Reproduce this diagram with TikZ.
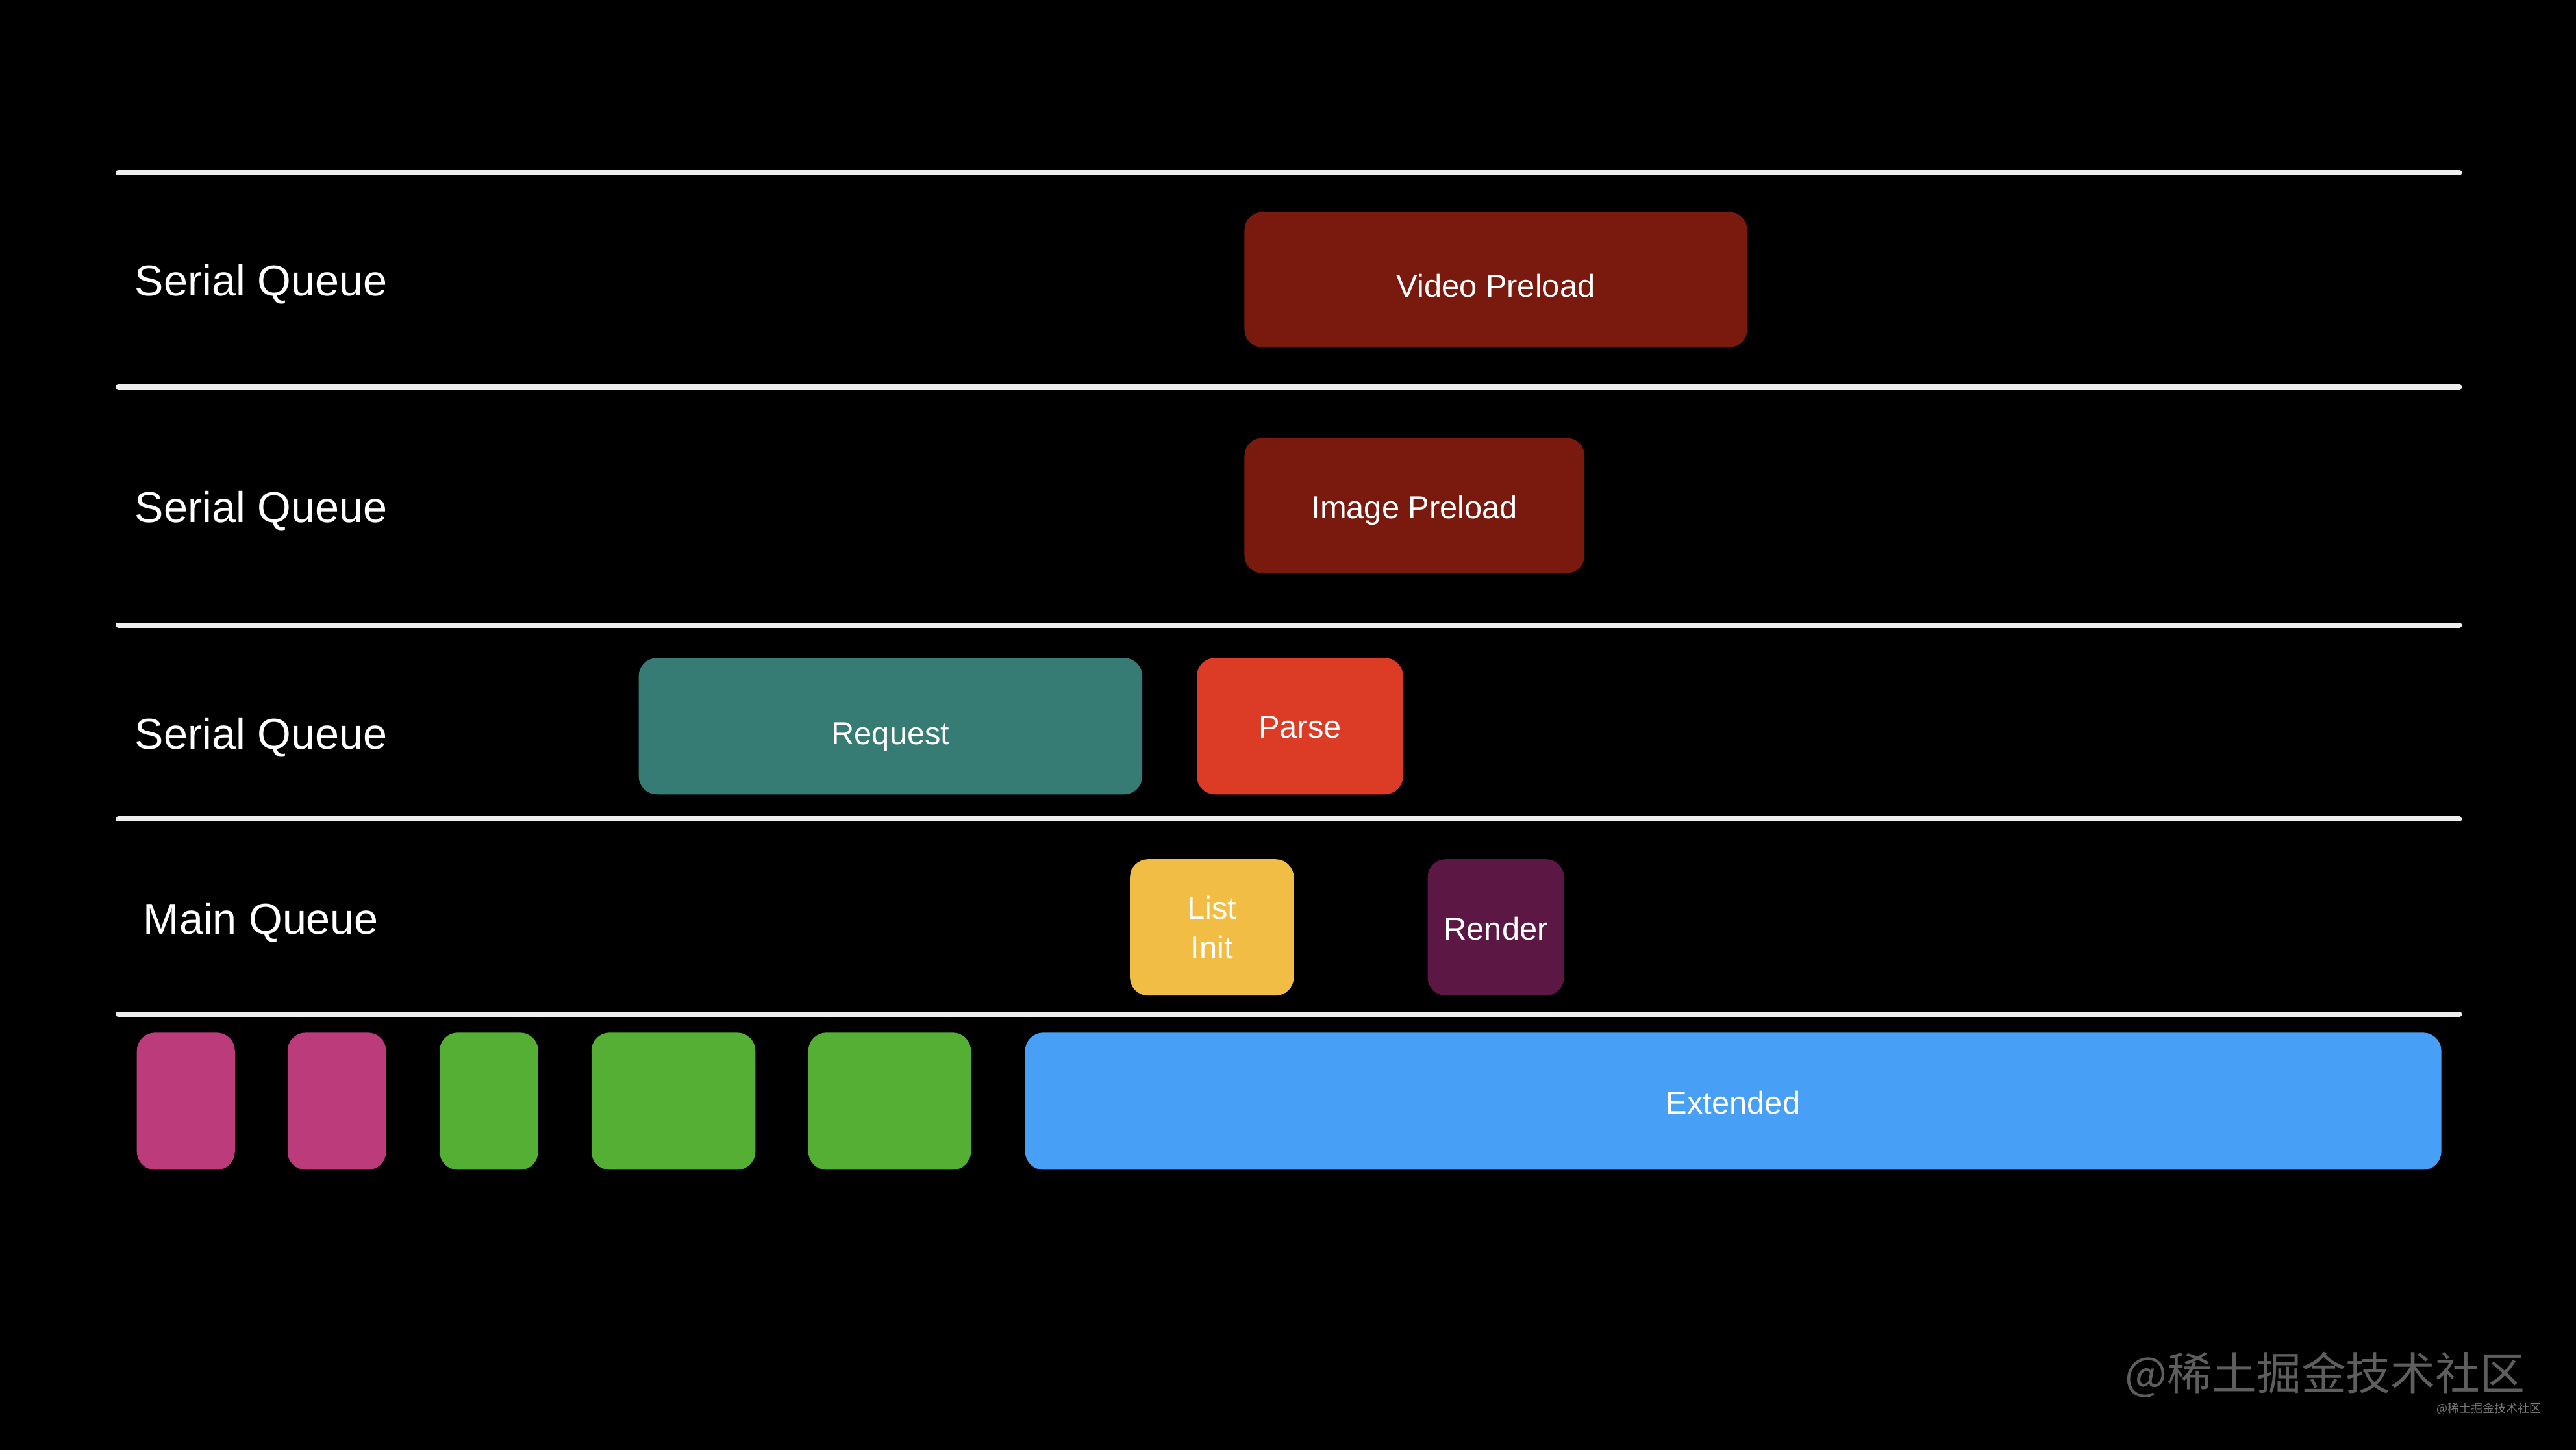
\documentclass[tikz,border=0pt]{standalone}
\usepackage{fontspec}
\setmainfont{Liberation Sans}
\newfontfamily\cjkfont{Noto Sans CJK SC}
\definecolor{laneline}{HTML}{EEEEEE}
\definecolor{preloadred}{HTML}{7A1A0F}
\definecolor{requestteal}{HTML}{367C75}
\definecolor{parsered}{HTML}{DC3C26}
\definecolor{listyellow}{HTML}{F1BD45}
\definecolor{renderpurple}{HTML}{5D1744}
\definecolor{launchpink}{HTML}{BC3B7B}
\definecolor{launchgreen}{HTML}{56AF35}
\definecolor{extblue}{HTML}{479FF6}
\definecolor{wmgrey}{HTML}{5E5E5E}
\definecolor{wmsmall}{HTML}{7A7A7A}
\begin{document}
\begin{tikzpicture}[x=1pt,y=-1pt,
  lane/.style={draw=laneline, line width=3.2pt, line cap=round},
  task/.style={rounded corners=11pt, inner sep=0pt, outer sep=0pt, anchor=north west,
    text=white, font=\fontsize{19.3}{24}\selectfont, text height=14pt, text depth=0pt},
  multitask/.style={rounded corners=11pt, inner sep=0pt, outer sep=0pt, anchor=north west,
    text=white, font=\fontsize{19.3}{24}\selectfont, align=center},
  qlabel/.style={anchor=base west, text=white, inner sep=0pt, font=\fontsize{26.3}{30}\selectfont}]
\fill[black] (0,0) rectangle (1568,882.6);
\useasboundingbox (0,0) rectangle (1568,882.6);

% lane separators
\coordinate (l1a) at (72,105); \coordinate (l1b) at (1497,105);
\coordinate (l2a) at (72,235.5); \coordinate (l2b) at (1497,235.5);
\coordinate (l3a) at (72,380.5); \coordinate (l3b) at (1497,380.5);
\coordinate (l4a) at (72,498.5); \coordinate (l4b) at (1497,498.5);
\coordinate (l5a) at (72,617.5); \coordinate (l5b) at (1497,617.5);
\draw[lane] (l1a) -- (l1b);
\draw[lane] (l2a) -- (l2b);
\draw[lane] (l3a) -- (l3b);
\draw[lane] (l4a) -- (l4b);
\draw[lane] (l5a) -- (l5b);

% queue labels
\node[qlabel] (q1) at (82,180) {Serial Queue};
\node[qlabel] (q2) at (82,318) {Serial Queue};
\node[qlabel] (q3) at (82,456) {Serial Queue};
\node[qlabel] (q4) at (87,568.5) {Main Queue};

% tasks
\node[task, fill=preloadred, minimum width=306pt, minimum height=82.5pt, text height=21.2pt] (video) at (757.5,129) {Video Preload};
\node[task, fill=preloadred, minimum width=207pt, minimum height=82.5pt, text height=15.9pt] (image) at (757.5,266.5) {Image Preload};
\node[task, fill=requestteal, minimum width=306.5pt, minimum height=83pt, text height=22.4pt] (request) at (388.8,400.5) {Request};
\node[task, fill=parsered, minimum width=125.5pt, minimum height=83pt, text height=14.6pt] (parse) at (728.5,400.5) {Parse};
\node[multitask, fill=listyellow, minimum width=99.7pt, minimum height=83pt] (listinit) at (687.8,523) {List\\Init};
\node[task, fill=renderpurple, minimum width=83pt, minimum height=83pt, text height=15pt] (render) at (869,523) {Render};

% launch phase
\node[task, fill=launchpink, minimum width=59.7pt, minimum height=83.4pt] (p1) at (83.3,628.6) {};
\node[task, fill=launchpink, minimum width=60pt, minimum height=83.4pt] (p2) at (175,628.6) {};
\node[task, fill=launchgreen, minimum width=60pt, minimum height=83.4pt] (g1) at (267.6,628.6) {};
\node[task, fill=launchgreen, minimum width=99.8pt, minimum height=83.4pt] (g2) at (360,628.6) {};
\node[task, fill=launchgreen, minimum width=99pt, minimum height=83.4pt] (g3) at (492,628.6) {};
\node[task, fill=extblue, minimum width=862pt, minimum height=83.4pt, text height=15.4pt] (ext) at (624,628.6) {Extended};

% watermark
\node[anchor=east, inner sep=0pt, text=wmgrey, font=\cjkfont\fontsize{27.2}{31}\selectfont] (wm) at (1537,837) {@稀土掘金技术社区};
\node[anchor=east, inner sep=0pt, text=wmsmall, font=\cjkfont\fontsize{7.1}{8}\selectfont] (wms) at (1547,857.5) {@稀土掘金技术社区};
\end{tikzpicture}
\end{document}
